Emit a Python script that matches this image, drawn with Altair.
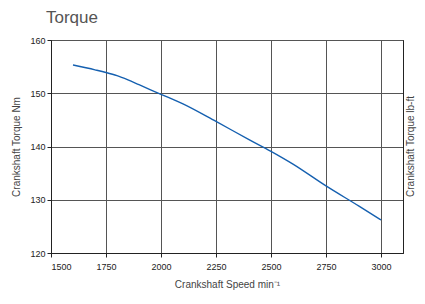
import altair as alt
import pandas as pd

speed = [1600, 1700, 1750, 1800, 1850, 1900, 2000, 2100, 2250, 2400, 2500, 2600, 2750, 2900, 3000]
torque = [155.3, 154.4, 153.9, 153.3, 152.5, 151.6, 149.8, 148.0, 144.7, 141.3, 139.1, 136.7, 132.6, 128.8, 126.2]
x_ticks = [1500, 1750, 2000, 2250, 2500, 2750, 3000]
y_ticks = [120, 130, 140, 150, 160]

df = pd.DataFrame({"speed": speed, "torque": torque})

FONT = "Liberation Sans"

base = alt.Chart(df)

line = base.mark_line(color="#1560b0", strokeWidth=1.4, interpolate="monotone").encode(
    x=alt.X("speed:Q",
            scale=alt.Scale(domain=[1500, 3100], nice=False, zero=False),
            axis=alt.Axis(values=x_ticks, title="Crankshaft Speed min⁻¹", format="d",
                          grid=True, gridColor="#555", gridWidth=1,
                          domainColor="#222", tickColor="#222", tickSize=4,
                          labelFontSize=9, labelColor="#222", labelPadding=5,
                          titleFontSize=10, titleColor="#444", titleFontWeight="normal",
                          titlePadding=8, labelFont=FONT, titleFont=FONT)),
    y=alt.Y("torque:Q",
            scale=alt.Scale(domain=[120, 160], nice=False, zero=False),
            axis=alt.Axis(values=y_ticks, title="Crankshaft Torque  Nm", format="d",
                          grid=True, gridColor="#555", gridWidth=1,
                          domainColor="#222", tickColor="#222", tickSize=4,
                          labelFontSize=9, labelColor="#222", labelPadding=2,
                          titleFontSize=10, titleColor="#444", titleFontWeight="normal",
                          titlePadding=8, labelFont=FONT, titleFont=FONT)),
)

right = base.mark_line(opacity=0).encode(
    x=alt.X("speed:Q", scale=alt.Scale(domain=[1500, 3100], nice=False, zero=False)),
    y=alt.Y("torque:Q",
            scale=alt.Scale(domain=[120, 160], nice=False, zero=False),
            axis=alt.Axis(orient="right", title="Crankshaft Torque  lb-ft",
                          labels=False, ticks=False, grid=False, domain=True,
                          domainColor="#222",
                          titleFontSize=10, titleColor="#444", titleFontWeight="normal",
                          titleFont=FONT, titleAngle=-90, titleX=7, titleY=106,
                          titleAlign="center", titleBaseline="middle")),
)

chart = alt.layer(line, right).resolve_scale(y="independent").properties(
    width=352, height=213,
    autosize=alt.AutoSizeParams(type="none"),
    padding={"left": 43, "top": 32, "right": 14, "bottom": 40},
    title=alt.TitleParams("Torque", anchor="start", frame="group", dx=-5, fontSize=17,
                          font=FONT, fontWeight="normal", color="#555", offset=9),
).configure_view(stroke="#222", strokeWidth=1)

chart.save("out.html", embed_options={"renderer": "svg", "actions": False})
